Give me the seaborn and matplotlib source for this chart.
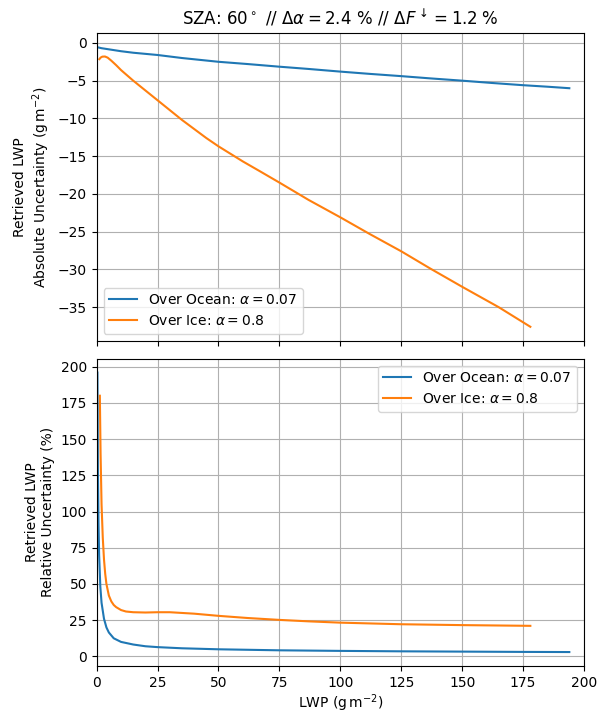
import numpy as np
import pandas as pd
import matplotlib
matplotlib.use("Agg")
import matplotlib.pyplot as plt
import seaborn as sns

# ---- data ----
# absolute uncertainty (g m-2)
ocean_abs_lwp = [0.4, 2, 5, 10, 15, 25, 35, 50, 62, 75, 87, 100, 112, 125, 137, 150, 162, 175, 185, 194]
ocean_abs_unc = [-0.58, -0.7, -0.85, -1.1, -1.3, -1.6, -2.0, -2.5, -2.8, -3.15, -3.45, -3.8, -4.1, -4.4, -4.7, -5.0, -5.3, -5.6, -5.8, -6.0]

ice_abs_lwp = [1.1, 1.6, 2.3, 3.4, 4.5, 6, 8, 10, 15, 20, 25, 30, 35, 40, 45, 50, 55, 60, 67, 75, 87, 100, 112, 125, 137, 150, 165, 178]
ice_abs_unc = [-2.15, -1.95, -1.82, -1.8, -1.95, -2.35, -2.95, -3.6, -5.0, -6.3, -7.6, -8.9, -10.2, -11.4, -12.6, -13.7, -14.7, -15.7, -17.0, -18.5, -20.8, -23.1, -25.3, -27.6, -29.9, -32.3, -35.0, -37.6]

# relative uncertainty (%)
ocean_rel_lwp = [0.3, 0.5, 0.75, 1, 1.5, 2, 3, 4, 5, 7, 10, 15, 20, 25, 35, 50, 75, 100, 125, 150, 175, 194]
ocean_rel_unc = [196, 130, 92, 70, 48, 37, 26, 20, 16.5, 12.5, 10, 8.2, 7.0, 6.4, 5.6, 4.9, 4.2, 3.8, 3.5, 3.3, 3.1, 3.0]

ice_rel_lwp = [1.3, 1.6, 2, 2.5, 3, 3.5, 4, 5, 6, 7, 8, 10, 12, 15, 20, 25, 30, 40, 50, 62, 75, 87, 100, 125, 150, 178]
ice_rel_unc = [180, 140, 105, 82, 67, 57, 50, 42, 38, 35.5, 34, 32, 31, 30.5, 30.3, 30.5, 30.5, 29.5, 28, 26.5, 25.2, 24.2, 23.3, 22.2, 21.6, 21.1]

ocean_label = r"Over Ocean: $\alpha = 0.07$"
ice_label = r"Over Ice: $\alpha = 0.8$"
title = r"SZA: $60^\circ$ // $\Delta\alpha = 2.4$ % // $\Delta F^\downarrow = 1.2$ %"

plt.rcParams['axes.unicode_minus'] = True

fig, (ax1, ax2) = plt.subplots(2, 1, figsize=(6.02, 7.15), dpi=100, sharex=True)
fig.subplots_adjust(left=0.1606, right=0.970, top=0.9534, bottom=0.0685, hspace=0.058)

# top panel: absolute uncertainty
sns.lineplot(x=ocean_abs_lwp, y=ocean_abs_unc, ax=ax1, color='C0', label=ocean_label)
sns.lineplot(x=ice_abs_lwp, y=ice_abs_unc, ax=ax1, color='C1', label=ice_label)
ax1.set_title(title)
ax1.set_ylabel("Retrieved LWP\n" + r"Absolute Uncertainty ($\mathrm{g\,m^{-2}}$)")
ax1.legend(loc='lower left')
ax1.grid(True)

# bottom panel: relative uncertainty
sns.lineplot(x=ocean_rel_lwp, y=ocean_rel_unc, ax=ax2, color='C0', label=ocean_label)
sns.lineplot(x=ice_rel_lwp, y=ice_rel_unc, ax=ax2, color='C1', label=ice_label)
ax2.set_ylabel("Retrieved LWP\nRelative Uncertainty (%)")
ax2.set_xlabel(r"LWP ($\mathrm{g\,m^{-2}}$)", labelpad=2)
ax2.legend(loc='upper right')
ax2.grid(True)
ax2.set_xlim(0, 200)

fig.savefig("out.png", dpi=100)
